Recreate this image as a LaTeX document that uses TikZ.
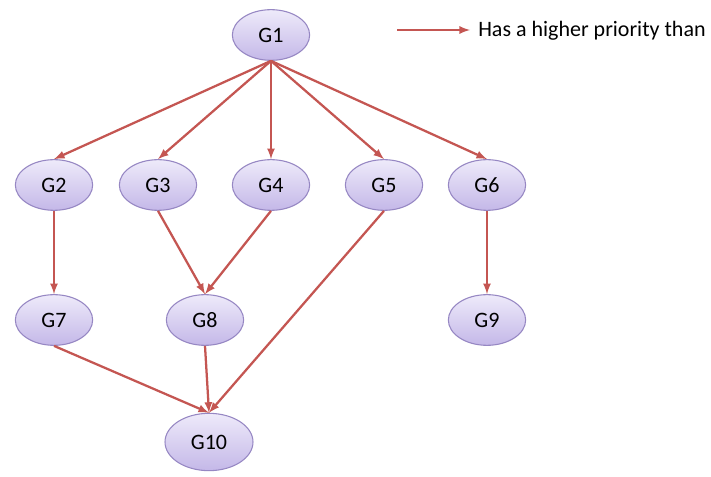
\documentclass[tikz,border=0pt]{standalone}
\usepackage{fontspec}
\setmainfont{Carlito}
\usetikzlibrary{arrows.meta, positioning, shapes.geometric}
\definecolor{edgeRed}{RGB}{196,86,82}
\definecolor{nodeBorder}{RGB}{150,135,195}
\definecolor{nodeTop}{RGB}{238,234,250}
\definecolor{nodeBottom}{RGB}{196,184,232}

\begin{document}
\begin{tikzpicture}[
    x=0.75pt, y=-0.75pt,
    >=latex,
    font=\fontsize{16.5}{20}\selectfont
  ]

  %--- Styles for the goal nodes and the arrows ---
  \tikzset{
    Gstyle/.style ={ellipse, draw=nodeBorder, top color=nodeTop,
    bottom color=nodeBottom, line width=0.8pt, minimum width=58pt,
    minimum height=38pt, inner sep=0pt},
    bigGstyle/.style ={Gstyle, minimum width=66pt, minimum height=43pt},
    prio/.style ={->, draw=edgeRed, line width=1.7pt},
  }

  \useasboundingbox (0,0) rectangle (711,477);

  %------------------------------------------------------------------------------
  % 1) Top node and legend
  %------------------------------------------------------------------------------
  \node[Gstyle] (G1) at (271,35) {G1};
  \coordinate (legA) at (397,30);
  \coordinate (legB) at (470,30);
  \node[anchor=west, inner sep=0pt] (legText) at (478,31) {Has a higher priority than};

  %------------------------------------------------------------------------------
  % 2) Second row
  %------------------------------------------------------------------------------
  \node[Gstyle] (G2) at (54,185)  {G2};
  \node[Gstyle] (G3) at (158,185) {G3};
  \node[Gstyle] (G4) at (271,185) {G4};
  \node[Gstyle] (G5) at (384,185) {G5};
  \node[Gstyle] (G6) at (487,185) {G6};

  %------------------------------------------------------------------------------
  % 3) Third and fourth rows
  %------------------------------------------------------------------------------
  \node[Gstyle] (G7) at (54,320)  {G7};
  \node[Gstyle] (G8) at (205,320) {G8};
  \node[Gstyle] (G9) at (487,320) {G9};
  \node[bigGstyle] (G10) at (209,442) {G10};

  %------------------------------------------------------------------------------
  % Edges
  %------------------------------------------------------------------------------
  \draw[prio] (legA) -- (legB);

  \draw[prio] (G1.south) -- (G2.north);
  \draw[prio] (G1.south) -- (G3.north);
  \draw[prio] (G1.south) -- (G4.north);
  \draw[prio] (G1.south) -- (G5.north);
  \draw[prio] (G1.south) -- (G6.north);

  \draw[prio] (G2.south) -- (G7.north);
  \draw[prio] (G3.south) -- (G8.north);
  \draw[prio] (G4.south) -- (G8.north);
  \draw[prio] (G6.south) -- (G9.north);

  \draw[prio] (G7.south) -- (G10.north);
  \draw[prio] (G8.south) -- (G10.north);
  \draw[prio] (G5.south) -- (G10.north);

\end{tikzpicture}
\end{document}
